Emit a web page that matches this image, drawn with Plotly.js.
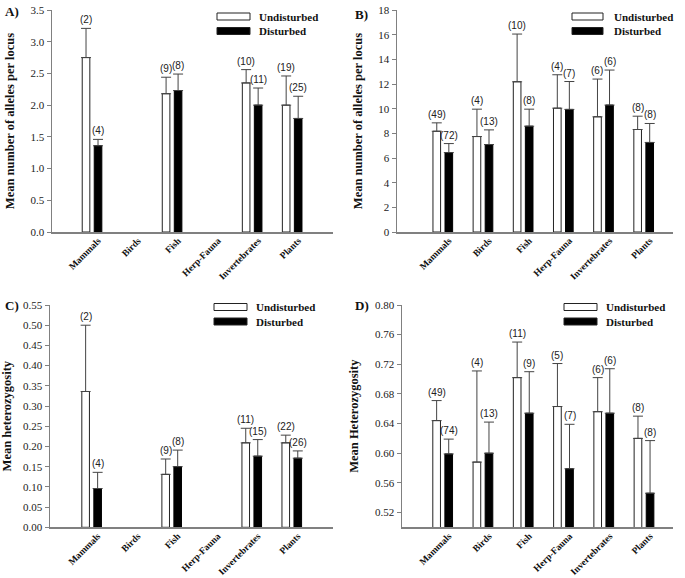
<!DOCTYPE html>
<html><head><meta charset="utf-8">
<script src="https://cdn.plot.ly/plotly-3.0.1.min.js"></script>
<style>html,body{margin:0;padding:0;background:#fff}#chart{width:685px;height:578px}</style>
</head><body><div id="chart"></div>
<script>
const categories = ['Mammals','Birds','Fish','Herp-Fauna','Invertebrates','Plants'];
const seriesNames = ['Undisturbed','Disturbed'];

// A) Mean number of alleles per locus (allozymes)
const aUndist = [2.75, null, 2.18, null, 2.35, 2.00];
const aUndistErr = [0.46, null, 0.26, null, 0.21, 0.46];
const aDist = [1.36, null, 2.23, null, 2.00, 1.79];
const aDistErr = [0.10, null, 0.26, null, 0.27, 0.35];
const aUndistN = ['(2)', '', '(9)', '', '(10)', '(19)'];
const aDistN = ['(4)', '', '(8)', '', '(11)', '(25)'];

// B) Mean number of alleles per locus (microsatellites)
const bUndist = [8.17, 7.74, 12.18, 10.04, 9.34, 8.31];
const bUndistErr = [0.68, 2.22, 3.87, 2.71, 3.06, 1.08];
const bDist = [6.44, 7.09, 8.58, 9.94, 10.29, 7.26];
const bDistErr = [0.73, 1.19, 1.38, 2.26, 2.84, 1.54];
const bUndistN = ['(49)', '(4)', '(10)', '(4)', '(6)', '(8)'];
const bDistN = ['(72)', '(13)', '(8)', '(7)', '(6)', '(8)'];

// C) Mean heterozygosity (allozymes)
const cUndist = [0.336, null, 0.131, null, 0.209, 0.209];
const cUndistErr = [0.164, null, 0.038, null, 0.036, 0.019];
const cDist = [0.096, null, 0.150, null, 0.176, 0.171];
const cDistErr = [0.040, null, 0.041, null, 0.041, 0.018];
const cUndistN = ['(2)', '', '(9)', '', '(11)', '(22)'];
const cDistN = ['(4)', '', '(8)', '', '(15)', '(26)'];

// D) Mean heterozygosity (microsatellites)
const dUndist = [0.644, 0.588, 0.702, 0.663, 0.656, 0.620];
const dUndistErr = [0.027, 0.123, 0.048, 0.058, 0.046, 0.030];
const dDist = [0.599, 0.600, 0.654, 0.579, 0.654, 0.546];
const dDistErr = [0.020, 0.042, 0.056, 0.060, 0.060, 0.071];
const dUndistN = ['(49)', '(4)', '(11)', '(5)', '(6)', '(8)'];
const dDistN = ['(74)', '(13)', '(9)', '(7)', '(6)', '(8)'];

const W = 685, H = 578;
const px = v => v / W;
const py = v => 1 - v / H;
const SERIF = 'Liberation Serif, Times New Roman, serif';
const SANS = 'Liberation Sans, Arial, sans-serif';
const idx = categories.map((_, i) => i);
const BW = 0.19, OFF = 0.15;

const traces = [];
const nLabels = [];
function addPanel(ax, U, Ue, D, De, Un, Dn) {
  const xa = 'x' + ax, ya = 'y' + ax;
  traces.push({type:'bar', name:seriesNames[0], x:idx, y:U, xaxis:xa, yaxis:ya, width:BW, offset:-OFF-BW/2,
    marker:{color:'#ffffff', line:{color:'#222', width:1}}, showlegend:false,
    error_y:{type:'data', symmetric:false, array:Ue, arrayminus:Ue.map(()=>0), color:'#444', thickness:1, width:5}});
  traces.push({type:'bar', name:seriesNames[1], x:idx, y:D, xaxis:xa, yaxis:ya, width:BW, offset:OFF-BW/2,
    marker:{color:'#000000', line:{color:'#000', width:1}}, showlegend:false,
    error_y:{type:'data', symmetric:false, array:De, arrayminus:De.map(()=>0), color:'#444', thickness:1, width:5}});
  [[U, Ue, Un, -OFF], [D, De, Dn, OFF]].forEach(([vals, errs, ns, off]) => {
    vals.forEach((v, i) => {
      if (v == null) return;
      nLabels.push({text:ns[i], xref:xa, yref:ya, x:i + off, y:v + errs[i], xanchor:'center', yanchor:'bottom',
        yshift:2, showarrow:false, borderpad:0, font:{family:SANS, size:10, color:'#222'}});
    });
  });
}
addPanel('', aUndist, aUndistErr, aDist, aDistErr, aUndistN, aDistN);
addPanel('2', bUndist, bUndistErr, bDist, bDistErr, bUndistN, bDistN);
addPanel('3', cUndist, cUndistErr, cDist, cDistErr, cUndistN, cDistN);
addPanel('4', dUndist, dUndistErr, dDist, dDistErr, dUndistN, dDistN);

function xAxis(dom, range, anchor) {
  return {domain:dom, range:range, anchor:anchor, tickvals:idx, ticktext:categories, tickangle:-45,
    ticks:'', showgrid:false, zeroline:false, showline:true, linecolor:'#808080', linewidth:1.5,
    ticklabelshift:6, ticklabelstandoff:-2,
    tickfont:{family:SERIF, size:9.5, color:'#111', weight:'bold'}, fixedrange:true};
}
function yAxis(dom, range, dtick, tick0, fmt, title, anchor) {
  return {domain:dom, range:range, anchor:anchor, dtick:dtick, tick0:tick0, tickformat:fmt,
    ticks:'outside', ticklen:4, tickwidth:1, tickcolor:'#808080', showgrid:false, zeroline:false,
    showline:true, linecolor:'#808080', linewidth:1.5,
    tickfont:{family:SERIF, size:11, color:'#222'},
    title:{text:title, font:{family:SERIF, size:12.5, color:'#111', weight:'bold'}, standoff:13}, fixedrange:true};
}

const topY = [py(232), py(10)], botY = [py(527.3), py(305)];
const layout = {
  width:W, height:H, margin:{l:0, r:0, t:0, b:0}, paper_bgcolor:'#fff', plot_bgcolor:'rgba(0,0,0,0)',
  barmode:'overlay', showlegend:false,
  xaxis: xAxis([px(52), px(333)], [-1, 6.02], 'y'),
  yaxis: yAxis(topY, [0, 3.5], 0.5, 0, '.1f', 'Mean number of alleles per locus', 'x'),
  xaxis2: xAxis([px(397), px(673)], [-1.14, 5.73], 'y2'),
  yaxis2: yAxis(topY, [0, 18], 2, 0, 'd', 'Mean number of alleles per locus', 'x2'),
  xaxis3: xAxis([px(50), px(333)], [-1.04, 6.03], 'y3'),
  yaxis3: yAxis(botY, [0, 0.55], 0.05, 0, '.2f', 'Mean heterozygosity', 'x3'),
  xaxis4: xAxis([px(402), px(673)], [-1.01, 5.72], 'y4'),
  yaxis4: yAxis(botY, [0.50, 0.80], 0.04, 0.52, '.2f', 'Mean Heterozygosity', 'x4'),
  shapes: [], annotations: nLabels
};

// panel letters
[['A)', 3, 12], ['B)', 353, 14], ['C)', 3, 305], ['D)', 353, 305]].forEach(([t, x, y]) => {
  layout.annotations.push({text:t, xref:'paper', yref:'paper', x:px(x), y:py(y), xanchor:'left', yanchor:'middle',
    showarrow:false, font:{family:SERIF, size:13, color:'#111', weight:'bold'}});
});

// legends (one per panel)
[[217, 250, 257, 16.5], [572, 603, 612, 16.5], [214, 247, 254, 307], [564, 597, 604, 307]].forEach(([x0, x1, tx, y]) => {
  [[seriesNames[0], '#fff', y], [seriesNames[1], '#000', y + 14.5]].forEach(([name, col, yy]) => {
    layout.shapes.push({type:'rect', xref:'paper', yref:'paper', x0:px(x0), x1:px(x1), y0:py(yy - 3.5), y1:py(yy + 3.5),
      fillcolor:col, line:{color:'#222', width:1}});
    layout.annotations.push({text:name, xref:'paper', yref:'paper', x:px(tx), y:py(yy), xanchor:'left', yanchor:'middle',
      showarrow:false, font:{family:SERIF, size:11, color:'#111', weight:'bold'}});
  });
});

Plotly.newPlot('chart', traces, layout, {displayModeBar:false, staticPlot:true});
</script></body></html>
